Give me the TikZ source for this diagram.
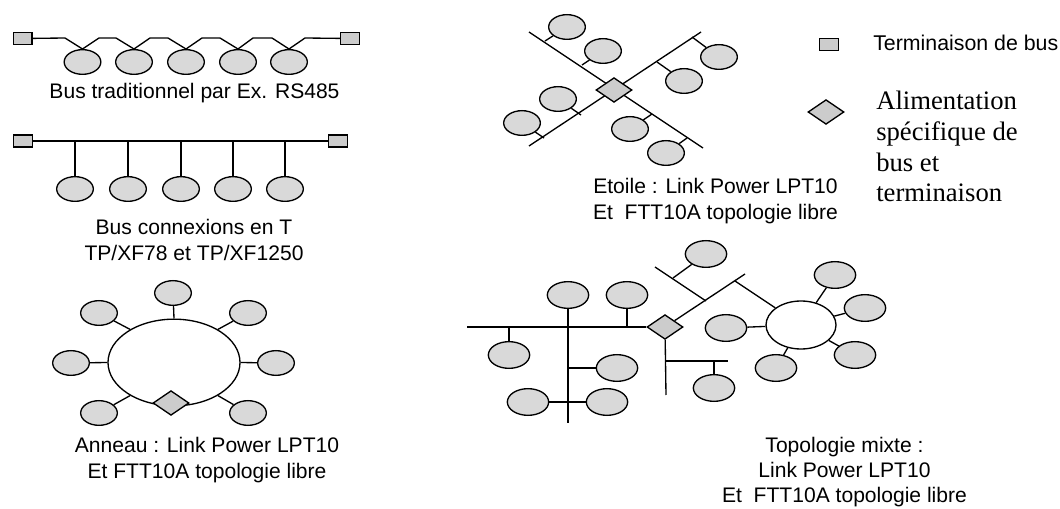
\documentclass[tikz,border=0pt]{standalone}
\usepackage{fontspec}
\setmainfont{Liberation Sans}
\newfontfamily\legendfont{Liberation Serif}
\usetikzlibrary{shapes.geometric}

\begin{document}
\begin{tikzpicture}[
    x=0.75pt, y=-0.75pt,
    station/.style={draw, line width=1pt, ellipse, fill=black!15, inner sep=0, minimum width=27.5pt, minimum height=18.5pt},
    term/.style={draw, line width=1pt, fill=black!20, inner sep=0, minimum width=14pt, minimum height=9pt},
    supply/.style={draw, line width=1pt, diamond, fill=black!20, inner sep=0, aspect=1.45, minimum width=27pt, minimum height=18.5pt},
    ring/.style={draw, line width=1pt, ellipse, fill=white, inner sep=0},
    wire/.style={line width=1pt},
    caption/.style={align=center, font=\fontsize{15.8}{19}\selectfont},
]
\useasboundingbox (0,0) rectangle (1060,509);

% Traditional bus
\node[term] (tl) at (22.5,38.5) {};
\node[term] (tr) at (350,38.5) {};
\foreach \i/\x in {1/82.5, 2/134, 3/186, 4/238, 5/289} {
    \node[station] (a\i) at (\x,62) {};
}
\draw[wire] (tl) -- (65,38) -- (a1.north) -- (99,38) -- (116,38) -- (a2.north) -- (150,38) -- (168,38)
    -- (a3.north) -- (202,38) -- (220,38) -- (a4.north) -- (253,38) -- (272,38) -- (a5.north) -- (305,38) -- (tr);
\node[caption] (captrad) at (194.5,93) {Bus traditionnel par Ex. RS485};

% T connections
\node[term] (bl) at (23,141) {};
\node[term] (br) at (338,141) {};
\draw[wire] (bl) -- (br);
\foreach \i/\x in {1/75, 2/128, 3/181, 4/233, 5/285} {
    \node[station] (b\i) at (\x,189) {};
    \draw[wire] (b\i.north) -- (b\i.north |- bl);
}
\node[caption] (capt) at (194,240) {Bus connexions en T\\TP/XF78 et TP/XF1250};

% Ring
\node[ring, minimum width=99pt, minimum height=65pt] (annulus) at (174,362.5) {};
\foreach \i/\x/\y/\a in {1/173/293/90, 2/99/313/143, 3/248/313/37, 4/71/363/180, 5/276/363/0, 6/99/413/217, 7/248/413/-37} {
    \node[station] (r\i) at (\x,\y) {};
    \draw[wire] (r\i) -- (annulus.\a);
}
\node[supply] (rsup) at (171,403) {};
\node[caption] (capring) at (207,460) {Anneau : Link Power LPT10\\Et FTT10A topologie libre};

% Star
\coordinate (sa) at (529,32);
\coordinate (sb) at (703,148);
\coordinate (sc) at (701,32);
\coordinate (sd) at (529,146);
\draw[wire] (sa) -- (sb);
\draw[wire] (sc) -- (sd);
\node[supply] (ssup) at (614,90) {};
\foreach \i/\x/\y/\u/\v in {1/567/27/545/41, 2/603/51/582/65, 3/719/57/692/37, 4/684/81/657/62,
    5/558/99/581/115, 6/522/123/544/138, 7/630/129/652/114, 8/666/153/687/138} {
    \node[station] (s\i) at (\x,\y) {};
    \coordinate (st\i) at (\u,\v);
    \draw[wire] (s\i) -- (st\i);
}
\node[caption] (capstar) at (715.5,201) {Etoile : Link Power LPT10\\Et\ \ FTT10A topologie libre};

% Legend
\node[term] (legterm) at (829,44.5) {};
\node[anchor=west, font=\fontsize{16}{18}\selectfont, inner sep=0] (legtermtext) at (873,43) {Terminaison de bus};
\node[supply] (legsup) at (826,112) {};
\node[anchor=base west, align=left, font=\legendfont\fontsize{20}{23}\selectfont, inner sep=0] (legsuptext) at (876,202) {Alimentation\\spécifique de\\bus et\\terminaison};

% Mixed topology
\node[supply] (msup) at (665,327) {};
\coordinate (mwest) at (467,327);
\coordinate (mvs) at (567,423);
\coordinate (mdown) at (666,395);
\coordinate (mbr) at (666,361);
\coordinate (mbe) at (728,361);
\coordinate (mup) at (745,274);
\coordinate (mua) at (655,267);
\coordinate (mub) at (706,301);
\coordinate (muc) at (735,281);
\coordinate (mud) at (673,278);
\node[ring, minimum width=52.5pt, minimum height=36pt] (mring) at (801,325) {};
\draw[wire] (mwest) -- (msup);
\draw[wire] (msup) -- (mdown);
\draw[wire] (mbr) -- (mbe);
\draw[wire] (msup) -- (mup);
\draw[wire] (mua) -- (mub);
\draw[wire] (muc) -- (mring);
\foreach \i/\x/\y in {1/568/295, 2/627/295, 3/509/355, 4/617/368, 5/528/402, 6/607/402, 7/714/388, 8/706/254,
    9/726/328, 10/835/275, 11/865/308, 12/855/355, 13/776/368} {
    \node[station, minimum width=31pt, minimum height=20pt] (m\i) at (\x,\y) {};
}
\draw[wire] (m1.south) -- (m1.south |- mvs);
\draw[wire] (m2.south) -- (m2.south |- mwest);
\draw[wire] (m3.north) -- (m3.north |- mwest);
\draw[wire] (m4.west) -- (m1.south |- m4.west);
\draw[wire] (m5) -- (m6);
\draw[wire] (m7.north) -- (m7.north |- mbe);
\draw[wire] (m8) -- (mud);
\foreach \i in {9,...,13} {
    \draw[wire] (m\i) -- (mring);
}
\node[caption] (capmix) at (844.5,472) {Topologie mixte :\\Link Power LPT10\\Et\ \ FTT10A topologie libre};

\end{tikzpicture}
\end{document}
